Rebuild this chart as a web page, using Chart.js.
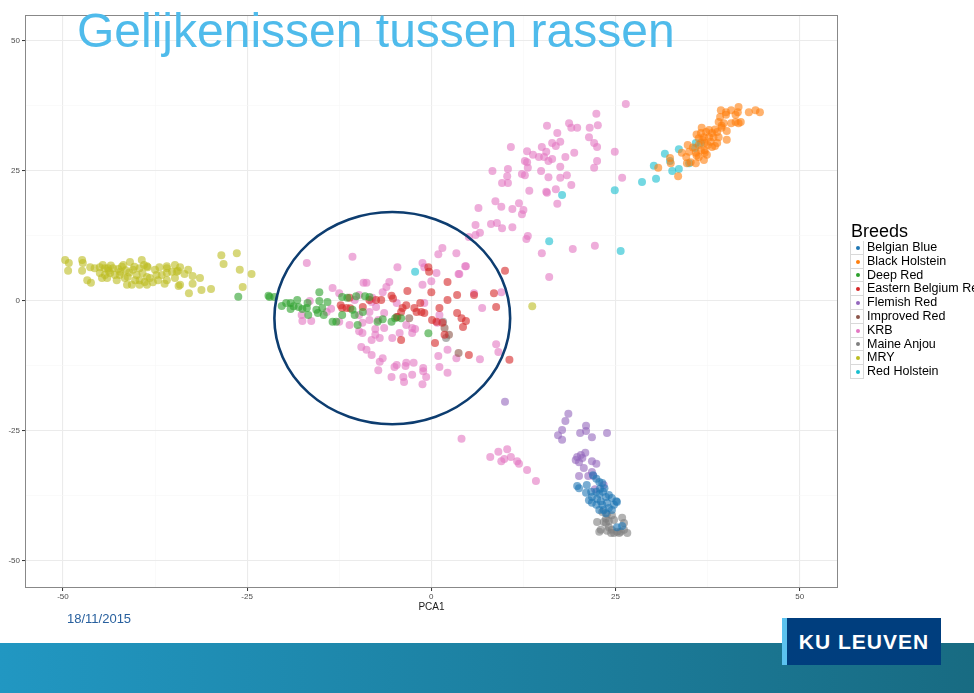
<!DOCTYPE html>
<html>
<head>
<meta charset="utf-8">
<script src="https://cdn.jsdelivr.net/npm/chart.js@4.4.0/dist/chart.umd.min.js"></script>
<style>
  html, body { margin: 0; padding: 0; background: #fff; }
  body { width: 974px; height: 693px; position: relative; overflow: hidden; font-family: "Liberation Sans", Arial, sans-serif; }
  #pca { position: absolute; left: 0; top: 0; }
  .title { position: absolute; left: 77px; top: 7px; font-size: 48px; line-height: 48px; color: #4fbbeb; white-space: nowrap; }
  .date { position: absolute; left: 67px; top: 612px; font-size: 13px; line-height: 13px; color: #28609e; }
  .band { position: absolute; left: 0; top: 643px; width: 974px; height: 50px; background: linear-gradient(to right, #2197c2, #186b82); }
  .logo { position: absolute; left: 782px; top: 618px; width: 159px; height: 47px; background: #003e7e; border-left: 5px solid #5bc2ef; box-sizing: border-box;
          color: #fff; font-weight: bold; font-size: 21px; letter-spacing: 1px; text-align: center; line-height: 47px; }
  .legend { position: absolute; left: 850px; top: 222px; white-space: nowrap; }
  .legend .head { font-size: 18px; line-height: 18px; color: #000; margin-left: 1px; margin-bottom: 1px; }
  .legend .row { height: 13.8px; position: relative; }
  .legend .key { position: absolute; left: 0; top: 0; width: 14px; height: 13.8px; border: 1px solid #d9d9d9; border-top: none; box-sizing: border-box; background: #fff; }
  .legend .row:first-of-type .key { border-top: 1px solid #d9d9d9; }
  .legend .dot { position: absolute; left: 4.5px; top: 4.9px; width: 4px; height: 4px; border-radius: 50%; }
  .legend .lab { position: absolute; left: 17px; top: 0; font-size: 12.5px; line-height: 13.8px; color: #000; }
</style>
</head>
<body>
<canvas id="pca" width="974" height="693"></canvas>
<div class="title">Gelijkenissen tussen rassen</div>
<div class="date">18/11/2015</div>
<div class="band"></div>
<div class="logo">KU LEUVEN</div>
<div class="legend" id="legend"><div class="head">Breeds</div></div>
<script>
// PCA coordinates [PCA1, PCA2] per breed
var belgianBlue = [[21.95,-33.5],[22.4,-34.2],[22.8,-34.8],[23.2,-35.0],[20.05,-36.0],[21.1,-35.4],[21.7,-36.7],[21.0,-36.9],[22.4,-36.7],[22.8,-37.1],
  [23.3,-36.7],[23.7,-37.7],[24.1,-37.3],[24.5,-37.9],[25.1,-38.5],[21.8,-37.7],[22.5,-38.1],[23.0,-38.5],[21.4,-38.3],[21.8,-38.8],
  [22.4,-39.2],[23.2,-39.2],[23.85,-38.8],[24.1,-39.8],[24.5,-40.2],[23.4,-40.2],[22.8,-40.2],[24.8,-39.2],[25.2,-38.65],[23.7,-40.8],
  [25.2,-43.5],[25.9,-43.3],[19.8,-35.6],[22.9,-36.1],[23.5,-36.0]];
var blackHolstein = [[39.3,36.7],[40.0,36.3],[40.7,36.7],[41.7,37.3],[41.6,36.3],[43.1,36.3],[44.0,36.7],[44.6,36.3],[39.2,35.4],[39.0,34.4],
  [39.7,34.2],[39.4,33.7],[40.7,34.2],[41.3,34.4],[41.7,34.2],[42.0,34.4],[40.1,32.7],[38.8,32.5],[38.1,32.3],[37.7,32.9],
  [36.7,33.3],[37.3,32.5],[36.6,32.3],[37.0,31.5],[36.3,31.3],[37.7,31.5],[38.3,31.5],[37.9,30.6],[38.8,30.4],[40.1,31.0],
  [37.1,30.4],[38.1,29.6],[36.3,30.0],[34.8,30.0],[35.0,28.7],[34.0,28.5],[34.6,27.7],[35.2,26.7],[35.9,28.5],[36.6,29.0],
  [37.1,28.5],[37.4,28.1],[37.0,27.1],[35.9,26.5],[34.7,26.5],[32.5,26.5],[32.4,27.5],[37.1,29.0],[36.3,27.7],[30.8,25.6],
  [33.5,24.0],[38.5,29.8],[39.0,31.5],[39.4,33.3],[40.0,35.8],[41.3,35.8],[36.0,32.0],[36.8,31.0],[37.5,30.0],[38.5,33.0],
  [35.5,29.5],[36.0,28.0]];
var deepRed = [[-26.2,0.8],[-22.1,1.0],[-21.95,0.77],[-21.3,0.77],[-20.3,-0.96],[-19.1,-0.38],[-19.1,-1.54],[-18.2,0.19],[-18.0,-1.15],[-17.5,-1.54],
  [-16.9,-1.35],[-16.8,-0.38],[-16.7,-2.7],[-15.6,-1.7],[-15.4,-2.3],[-15.2,1.7],[-15.2,0],[-14.8,-1.35],[-14.6,-2.7],[-14.1,-0.2],
  [-13.4,-4.0],[-12.9,-4.0],[-12.1,0.77],[-12.1,-2.7],[-10.7,-1.7],[-10.4,-2.7],[-10.0,-4.6],[-9.3,-2.1],[-8.4,0.77],[-7.3,-4.0],
  [-6.6,-3.5],[-5.4,-4.0],[-4.9,-3.3],[-4.1,-3.3],[-0.4,-6.2],[-11.4,0.6],[-10.2,0.9],[-9.0,0.9],[-19.7,-0.4],[-18.7,-1.0]];
var easternBelgiumRed = [[-11.1,0.6],[-12.1,-1.35],[-11.5,-1.35],[-9.3,-1.15],[-8.4,0.2],[-7.5,0.2],[-6.8,0.2],[-5.4,1.0],[-5.2,0.5],[-4.6,-3.1],
  [-4.1,-2.1],[-3.9,-1.35],[-3.4,-0.8],[-3.25,1.9],[-2.3,-1.35],[-2.0,-2.1],[-1.5,-0.4],[-1.35,-2.1],[-0.95,-2.3],[-0.4,6.5],
  [-0.3,5.6],[0.1,-3.65],[0,1.7],[0.7,-4.0],[1.1,-1.35],[1.5,-4.2],[2.2,3.65],[2.2,0.2],[1.8,-6.5],[0.5,-8.1],
  [3.5,-2.3],[3.5,1.15],[4.1,-3.3],[4.7,-3.85],[4.3,-5.0],[5.1,-10.4],[5.8,1.15],[8.5,1.5],[8.8,-1.15],[10.0,5.8],
  [10.6,-11.3],[-4.1,-7.5],[-12.3,-0.8],[-11.0,-1.4]];
var flemishRed = [[18.6,-21.7],[18.2,-23.1],[17.75,-24.8],[17.2,-25.8],[17.75,-26.7],[21.0,-24.0],[21.0,-25.0],[20.2,-25.4],[21.8,-26.2],[23.85,-25.4],
  [19.8,-30.0],[20.3,-29.6],[20.9,-29.2],[20.05,-31.0],[21.8,-30.8],[22.4,-31.3],[20.7,-32.1],[21.8,-32.9],[20.05,-33.65],[21.3,-33.65],
  [22.0,-33.65],[23.4,-35.4],[22.2,-36.2],[19.6,-30.6],[20.5,-30.2],[10.0,-19.4]];
var improvedRed = [[-3.0,-3.3],[1.8,-5.2],[2.4,-6.5],[3.7,-10.0],[-4.7,-3.1]];
var krb = [
  // upper arm
  [26.4,37.9],[22.4,36.0],[15.7,33.7],[18.7,34.2],[19.0,33.3],[19.8,33.3],[21.5,33.3],[22.6,33.8],[21.4,31.5],[17.1,32.3],
  [10.8,29.6],[15.0,29.6],[16.4,30.4],[16.9,29.8],[17.5,30.6],[22.1,30.4],[22.5,29.6],[13.0,28.8],[15.6,28.7],[13.8,28.1],
  [14.6,27.7],[15.3,27.7],[19.4,28.5],[24.9,28.7],[12.7,26.9],[13.0,26.7],[16.4,27.3],[15.9,26.9],[18.2,27.7],[22.5,26.9],
  [13.1,25.6],[14.9,25.0],[17.5,25.8],[22.1,25.6],[8.3,25.0],[10.4,25.4],[12.3,24.4],[12.7,24.2],[15.9,23.8],[17.5,23.7],
  [18.4,24.2],[10.3,24.0],[9.6,22.7],[10.4,22.7],[19.0,22.3],[25.9,23.7],[13.3,21.2],[15.6,21.0],[16.9,21.5],[15.7,20.8],
  [8.7,19.2],[11.9,18.8],[9.5,18.1],[11.0,17.7],[12.5,17.5],[12.3,16.7],[17.1,18.7],[6.4,17.9],[6.0,14.6],[8.1,14.8],
  [8.9,15.0],[9.6,14.0],[11.0,14.2],[6.6,13.1],[6.0,12.7],[5.1,12.3],[13.1,12.5],[12.9,11.9],[15.0,9.2],[19.2,10.0],
  [22.2,10.6],[16.0,4.6],[4.6,6.7],[3.8,5.2],
  // centre
  [-16.9,7.3],[-10.7,8.5],[-4.6,6.5],[-1.2,7.3],[-0.95,6.5],[1.5,10.2],[0.95,9.0],[3.4,9.2],[4.7,6.7],[0.7,5.4],
  [3.7,5.2],[0,3.8],[-1.2,3.1],[-9.2,3.5],[-8.8,3.5],[-5.7,3.65],[-6.1,2.7],[-6.6,1.7],[-9.8,1.15],[-12.5,1.5],
  [-13.4,2.5],[-10.4,0.2],[-8.0,0.6],[-8.1,-0.2],[-4.7,-0.4],[-0.95,-0.4],[5.8,1.5],[9.5,1.7],[6.9,-1.35],[-16.5,0],
  [-17.6,-2.7],[-17.5,-3.85],[-16.3,-3.85],[-14.2,-2.1],[-13.6,-1.5],[-12.5,-4.0],[-11.1,-4.6],[-9.8,-2.7],[-8.4,-2.1],[-7.5,-1.15],
  [-6.4,-2.3],[-8.4,-3.65],[-9.35,-4.2],[-7.2,-3.65],[-6.4,-5.2],[-7.6,-5.4],[-9.35,-6.15],[-9.8,-5.8],[-8.1,-7.5],[-7.6,-6.5],
  [-7.0,-7.1],[-5.3,-7.1],[-4.3,-6.15],[-3.4,-4.6],[-2.6,-5.2],[-2.6,-6.15],[-2.2,-5.4],[0.8,-4.2],[1.1,-2.7],[2.2,-9.4],
  [0.95,-10.6],[1.1,-12.7],[2.2,-13.8],[3.4,-11.0],[6.6,-11.2],[8.8,-8.3],[9.1,-9.8],[-9.5,-8.85],[-8.8,-9.4],[-8.1,-10.4],
  [-6.6,-11.0],[-7.0,-11.7],[-4.7,-12.3],[-5.0,-12.7],[-3.4,-11.9],[-2.4,-11.9],[-1.1,-12.9],[-1.1,-13.5],[-2.6,-14.2],[-3.8,-14.6],
  [-3.7,-15.6],[-5.4,-14.6],[-1.2,-16.0],[-0.7,-14.6],[-3.5,-12.5],[-7.2,-13.3],
  // lower group
  [4.1,-26.5],[8.0,-30.0],[9.1,-29.0],[10.3,-28.5],[9.5,-30.8],[9.9,-30.4],[10.8,-30.0],[11.65,-30.8],[11.9,-31.3],[13.0,-32.5],
  [14.2,-34.6]];
var maineAnjou = [[23.2,-40.6],[23.85,-41.0],[23.7,-41.9],[23.4,-42.5],[24.1,-42.3],[24.5,-41.2],[24.8,-42.1],[22.5,-42.5],[23.0,-44.0],[23.85,-44.2],
  [24.5,-44.0],[24.8,-44.6],[25.2,-44.4],[25.7,-44.4],[26.15,-44.0],[26.6,-44.6],[26.15,-42.7],[25.9,-41.7],[24.1,-43.5],[22.8,-44.4],
  [23.7,-42.7],[24.4,-44.6],[25.5,-44.6],[2.0,-7.1],[1.6,-4.0]];
var mry = [[-49.7,7.9],[-49.2,7.3],[-49.3,5.8],[-47.4,7.9],[-47.3,7.3],[-47.4,5.8],[-46.7,4.0],[-46.2,3.5],
  [-46.3,6.5],[-45.7,6.3],[-45.0,6.5],[-44.3,6.3],[-43.9,6.3],[-43.2,6.3],[-42.5,6.15],[-45.0,5.4],[-44.3,5.0],[-43.6,5.4],
  [-42.95,5.0],[-42.3,5.0],[-44.7,4.4],[-44.0,4.4],[-42.7,4.0],[-40.9,7.5],[-39.3,7.9],[-40.5,6.0],[-39.6,6.3],[-40.0,5.0],
  [-39.2,5.4],[-38.6,4.6],[-38.2,4.4],[-41.6,4.4],[-41.2,4.6],[-41.3,3.1],[-40.2,4.0],[-39.6,4.0],[-38.9,3.65],[-40.65,3.1],
  [-39.6,3.1],[-38.6,3.1],[-38.5,6.5],[-37.5,6.0],[-37.3,5.0],[-36.6,5.0],[-35.9,5.4],[-35.2,5.6],[-36.9,6.5],[-35.9,6.3],
  [-34.8,6.9],[-37.1,4.0],[-35.9,4.0],[-34.8,4.4],[-34.55,5.6],[-34.1,3.1],[-43.5,6.8],[-42.0,6.6],[-41.5,5.9],[-41.0,5.5],
  [-42.2,5.6],[-43.8,5.8],[-40.3,6.6],[-41.8,6.9],[-44.6,6.9],[-39.0,6.9],[-35.9,6.7],[-34.1,6.5],[-34.4,5.8],[-32.4,4.8],
  [-32.4,3.3],[-31.4,4.4],[-32.9,1.5],[-31.2,2.1],[-29.9,2.3],[-34.3,2.9],[-28.5,8.8],[-26.4,9.2],[-28.2,7.1],[-26.0,6.0],
  [-24.4,5.2],[-25.6,2.7],[-33.5,5.2],[-33.0,6.0],[-36.2,3.3],[-37.8,3.6],[-38.6,6.7],[13.7,-1.0]];
var redHolstein = [[-2.2,5.6],[17.75,20.4],[16.0,11.5],[24.9,21.3],[25.7,9.6],[28.6,22.9],[30.5,23.5],[30.2,26.0],[31.7,28.3],[32.4,26.9],
  [32.7,25.0],[33.6,25.4],[33.6,29.2],[35.9,30.4],[35.8,29.4],[36.6,30.4],[35.0,26.5]];

var breeds = ['Belgian Blue', 'Black Holstein', 'Deep Red', 'Eastern Belgium Red', 'Flemish Red',
  'Improved Red', 'KRB', 'Maine Anjou', 'MRY', 'Red Holstein'];
var breedData = [belgianBlue, blackHolstein, deepRed, easternBelgiumRed, flemishRed,
  improvedRed, krb, maineAnjou, mry, redHolstein];
var breedColors = ['31,119,180', '255,127,14', '44,160,44', '214,39,40', '148,103,189',
  '140,86,75', '227,119,194', '127,127,127', '188,189,34', '23,190,207'];

var xTicks = [-50, -37.5, -25, -12.5, 0, 12.5, 25, 37.5, 50];
var yTicks = [-50, -37.5, -25, -12.5, 0, 12.5, 25, 37.5, 50];

// circled cluster on the slide, in PCA units
var ringCenter = [-5.3, -3.3];
var ringRadius = [16.0, 20.4];

var fontFamily = '"Liberation Sans", Arial, sans-serif';

function isMajor(v) { return v % 25 === 0; }

var gridStyle = {
  color: function(c) { return isMajor(c.tick.value) ? '#ebebeb' : '#f6f6f6'; },
  lineWidth: function(c) { return isMajor(c.tick.value) ? 1.1 : 0.6; },
  tickColor: function(c) { return isMajor(c.tick.value) ? '#333333' : 'rgba(0,0,0,0)'; },
  tickLength: 3,
  tickWidth: 1
};

var panelExtras = {
  id: 'panelExtras',
  afterDraw: function(chart) {
    var ctx = chart.ctx, a = chart.chartArea, sx = chart.scales.x, sy = chart.scales.y;
    ctx.save();
    ctx.strokeStyle = '#888888';
    ctx.lineWidth = 1;
    ctx.strokeRect(a.left + 0.5, a.top + 0.5, a.right - a.left - 1, a.bottom - a.top - 1);

    var cx = sx.getPixelForValue(ringCenter[0]);
    var cy = sy.getPixelForValue(ringCenter[1]);
    var rx = Math.abs(sx.getPixelForValue(ringCenter[0] + ringRadius[0]) - cx);
    var ry = Math.abs(sy.getPixelForValue(ringCenter[1] + ringRadius[1]) - cy);
    ctx.beginPath();
    ctx.ellipse(cx, cy, rx, ry, 0, 0, Math.PI * 2);
    ctx.strokeStyle = '#0d3d70';
    ctx.lineWidth = 2.6;
    ctx.stroke();
    ctx.restore();
  }
};

var datasets = [];
for (var i = 0; i < breeds.length; i++) {
  datasets.push({
    label: breeds[i],
    data: breedData[i].map(function(p) { return { x: p[0], y: p[1] }; }),
    backgroundColor: 'rgba(' + breedColors[i] + ',0.6)',
    borderWidth: 0,
    pointRadius: 4,
    pointHoverRadius: 4
  });
}

new Chart(document.getElementById('pca').getContext('2d'), {
  type: 'scatter',
  data: { datasets: datasets },
  options: {
    responsive: false,
    animation: false,
    devicePixelRatio: 1,
    layout: { padding: { left: 0, right: 136, top: 15, bottom: 80 } },
    plugins: { legend: { display: false }, tooltip: { enabled: false } },
    scales: {
      x: {
        type: 'linear', min: -55.15, max: 55.2,
        afterBuildTicks: function(s) { s.ticks = xTicks.map(function(v) { return { value: v }; }); },
        afterFit: function(s) { s.height = 25; },
        ticks: { autoSkip: false, maxRotation: 0, padding: 1, color: '#4d4d4d', font: { size: 8, family: fontFamily },
                 callback: function(v) { return isMajor(v) ? v : ''; } },
        grid: gridStyle,
        border: { display: false },
        title: { display: true, text: 'PCA1', color: '#1a1a1a', font: { size: 10, family: fontFamily }, padding: 0 }
      },
      y: {
        type: 'linear', min: -55.2, max: 55.0,
        afterBuildTicks: function(s) { s.ticks = yTicks.map(function(v) { return { value: v }; }); },
        afterFit: function(s) { s.width = 25; },
        ticks: { autoSkip: false, padding: 2, color: '#4d4d4d', font: { size: 8, family: fontFamily },
                 callback: function(v) { return isMajor(v) ? v : ''; } },
        grid: gridStyle,
        border: { display: false }
      }
    }
  },
  plugins: [panelExtras]
});

// ggplot style legend on the right
var legend = document.getElementById('legend');
for (var j = 0; j < breeds.length; j++) {
  var row = document.createElement('div');
  row.className = 'row';
  row.innerHTML = '<div class="key"><div class="dot" style="background:rgb(' + breedColors[j] + ')"></div></div>' +
    '<div class="lab">' + breeds[j] + '</div>';
  legend.appendChild(row);
}
</script>
</body>
</html>
